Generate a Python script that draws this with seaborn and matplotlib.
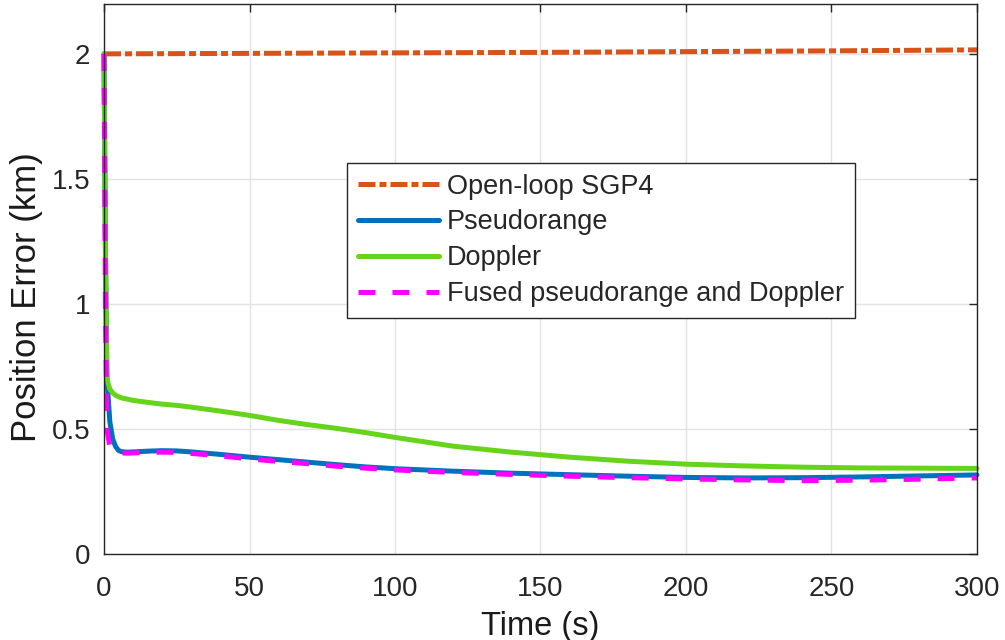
import numpy as np
import pandas as pd
import matplotlib
matplotlib.use("Agg")
import matplotlib.pyplot as plt
import seaborn as sns

# ---- data ----
t = [0, 0.5, 1, 2, 3, 4, 5, 6, 8, 10, 15, 20, 25, 30, 40, 50, 60, 70, 80, 90,
     100, 120, 140, 160, 180, 200, 220, 240, 260, 280, 300]
pseudorange = [2.0, 1.2, 0.7, 0.53, 0.46, 0.43, 0.415, 0.41, 0.408, 0.409, 0.412, 0.414,
               0.413, 0.409, 0.399, 0.388, 0.378, 0.368, 0.358, 0.349,
               0.342, 0.332, 0.324, 0.318, 0.312, 0.307, 0.305, 0.306, 0.309, 0.313, 0.317]
doppler = [2.0, 1.2, 0.70, 0.66, 0.645, 0.635, 0.63, 0.625, 0.62, 0.615, 0.607, 0.60,
           0.595, 0.588, 0.572, 0.555, 0.535, 0.518, 0.503, 0.486,
           0.467, 0.432, 0.408, 0.388, 0.372, 0.360, 0.353, 0.348, 0.345, 0.344, 0.343]
fused = [2.0, 1.0, 0.5, 0.43, 0.415, 0.41, 0.408, 0.405, 0.404, 0.405, 0.407, 0.408,
         0.407, 0.403, 0.393, 0.381, 0.371, 0.362, 0.352, 0.344,
         0.337, 0.327, 0.319, 0.312, 0.306, 0.301, 0.297, 0.294, 0.296, 0.300, 0.305]
t_sgp4 = [0, 50, 100, 150, 200, 250, 300]
sgp4 = [2.000, 2.002, 2.004, 2.006, 2.009, 2.012, 2.016]

labels = ["Open-loop SGP4", "Pseudorange", "Doppler", "Fused pseudorange and Doppler"]
xticks = [0, 50, 100, 150, 200, 250, 300]
yticks = [0, 0.5, 1, 1.5, 2]
ytick_labels = ["0", "0.5", "1", "1.5", "2"]

# ---- style ----
sns.set_style("white")
plt.rcParams["font.family"] = ["Liberation Sans", "DejaVu Sans"]

fig = plt.figure(figsize=(10.05, 6.4), dpi=100)
ax = fig.add_axes([0.1035, 0.134, 0.8686, 0.860])

lw = 3.6
sns.lineplot(x=t_sgp4, y=sgp4, ax=ax, color="#D95319", lw=lw, label=labels[0],
             linestyle=(0, (3.4, 0.8, 1.4, 0.8)))
sns.lineplot(x=t, y=pseudorange, ax=ax, color="#0072BD", lw=lw, label=labels[1])
sns.lineplot(x=t, y=doppler, ax=ax, color="#66D41A", lw=lw, label=labels[2])
sns.lineplot(x=t, y=fused, ax=ax, color="#FF00FF", lw=lw, label=labels[3],
             linestyle=(0, (3.4, 3.4)))
for line in ax.get_lines():
    line.set_clip_on(False)

ax.set_xlim(0, 300)
ax.set_ylim(0, 2.2)
ax.set_xticks(xticks)
ax.set_xticklabels([str(v) for v in xticks])
ax.set_yticks(yticks)
ax.set_yticklabels(ytick_labels)

ax.grid(True, color="#e3e3e3", lw=1)
ax.set_axisbelow(True)
for s in ax.spines.values():
    s.set_visible(True)
    s.set_color("#262626")
    s.set_linewidth(1.0)
ax.tick_params(direction="in", top=True, right=True, length=6, width=1,
               colors="#262626", labelsize=20)
ax.tick_params(axis="x", pad=16)
ax.tick_params(axis="y", pad=10)

ax.set_xlabel("Time (s)", fontsize=23.5, color="#1a1a1a", labelpad=6)
ax.set_ylabel("Position Error (km)", fontsize=25, color="#1a1a1a")
ax.yaxis.set_label_coords(-0.070, 0.467)

leg = ax.legend(loc="upper left", bbox_to_anchor=(0.278, 0.711), fontsize=19.5,
                frameon=True, fancybox=False, shadow=False, framealpha=1,
                edgecolor="#262626", handlelength=3.0, handletextpad=0.3,
                labelspacing=0.36, borderpad=0.4, borderaxespad=0)
leg.get_frame().set_linewidth(1.0)
leg.set_zorder(5)

fig.savefig("out.png", dpi=100)
